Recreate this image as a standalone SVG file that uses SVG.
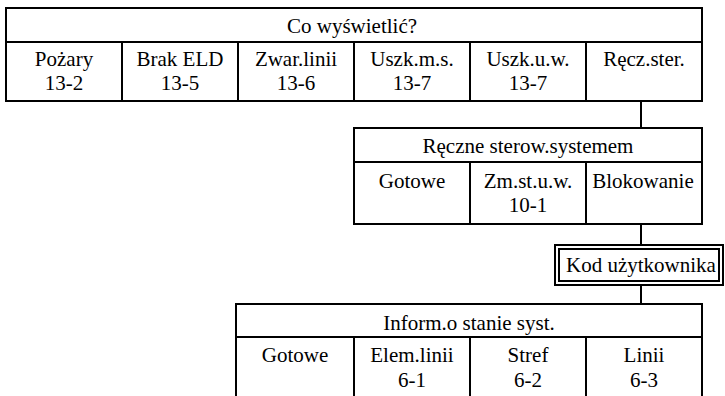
<svg xmlns="http://www.w3.org/2000/svg" width="725" height="396" viewBox="0 0 725 396">
<style>
.b{fill:#fff;stroke:#000;stroke-width:2}
.l{fill:none;stroke:#000;stroke-width:2}
.c{stroke:#000;stroke-width:2;fill:none}
.t{fill:#000;text-anchor:middle}
</style>
<rect width="725" height="396" fill="#fff"/>
<g id="connectors">
<line class="c" x1="641" y1="101" x2="641" y2="128"/>
<line class="c" x1="641" y1="224" x2="641" y2="245"/>
<line class="c" x1="641" y1="285" x2="641" y2="304"/>
</g>
<g id="menu-main">
<rect class="b" x="6" y="8" width="696" height="93"/>
<line class="l" x1="6" y1="42" x2="702" y2="42"/>
<line class="l" x1="122" y1="42" x2="122" y2="101"/>
<line class="l" x1="238" y1="42" x2="238" y2="101"/>
<line class="l" x1="354" y1="42" x2="354" y2="101"/>
<line class="l" x1="470" y1="42" x2="470" y2="101"/>
<line class="l" x1="586" y1="42" x2="586" y2="101"/>
<text class="t" font-family="Liberation Serif" font-size="21" x="352" y="33">Co wyświetlić?</text>
<text class="t" font-family="Liberation Serif" font-size="21" x="64" y="66">Pożary</text>
<text class="t" font-family="Liberation Serif" font-size="21" x="64" y="90">13-2</text>
<text class="t" font-family="Liberation Serif" font-size="21" x="180" y="66">Brak ELD</text>
<text class="t" font-family="Liberation Serif" font-size="21" x="180" y="90">13-5</text>
<text class="t" font-family="Liberation Serif" font-size="21" x="296" y="66">Zwar.linii</text>
<text class="t" font-family="Liberation Serif" font-size="21" x="296" y="90">13-6</text>
<text class="t" font-family="Liberation Serif" font-size="21" x="412" y="66">Uszk.m.s.</text>
<text class="t" font-family="Liberation Serif" font-size="21" x="412" y="90">13-7</text>
<text class="t" font-family="Liberation Serif" font-size="21" x="528" y="66">Uszk.u.w.</text>
<text class="t" font-family="Liberation Serif" font-size="21" x="528" y="90">13-7</text>
<text class="t" font-family="Liberation Serif" font-size="21" x="644" y="66">Ręcz.ster.</text>
</g>
<g id="menu-manual">
<rect class="b" x="354" y="128" width="348" height="96"/>
<line class="l" x1="354" y1="162" x2="702" y2="162"/>
<line class="l" x1="470" y1="162" x2="470" y2="224"/>
<line class="l" x1="586" y1="162" x2="586" y2="224"/>
<text class="t" font-family="Liberation Serif" font-size="21" x="528" y="153">Ręczne sterow.systemem</text>
<text class="t" font-family="Liberation Serif" font-size="21" x="412" y="188">Gotowe</text>
<text class="t" font-family="Liberation Serif" font-size="21" x="528" y="188">Zm.st.u.w.</text>
<text class="t" font-family="Liberation Serif" font-size="21" x="528" y="212">10-1</text>
<text class="t" font-family="Liberation Serif" font-size="21" x="643" y="188">Blokowanie</text>
</g>
<g id="user-code">
<rect class="b" x="555" y="245" width="168" height="40"/>
<rect class="b" x="559" y="249" width="160" height="32"/>
<text class="t" font-family="Liberation Serif" font-size="21" x="641" y="272">Kod użytkownika</text>
</g>
<g id="menu-status">
<path class="l" d="M236,400 V304 H702 V400"/>
<line class="l" x1="236" y1="337" x2="702" y2="337"/>
<line class="l" x1="354" y1="337" x2="354" y2="400"/>
<line class="l" x1="470" y1="337" x2="470" y2="400"/>
<line class="l" x1="586" y1="337" x2="586" y2="400"/>
<text class="t" font-family="Liberation Serif" font-size="21" x="469" y="330">Inform.o stanie syst.</text>
<text class="t" font-family="Liberation Serif" font-size="21" x="295" y="362">Gotowe</text>
<text class="t" font-family="Liberation Serif" font-size="21" x="412" y="362">Elem.linii</text>
<text class="t" font-family="Liberation Serif" font-size="21" x="412" y="387">6-1</text>
<text class="t" font-family="Liberation Serif" font-size="21" x="528" y="362">Stref</text>
<text class="t" font-family="Liberation Serif" font-size="21" x="528" y="387">6-2</text>
<text class="t" font-family="Liberation Serif" font-size="21" x="644" y="362">Linii</text>
<text class="t" font-family="Liberation Serif" font-size="21" x="644" y="387">6-3</text>
</g>
</svg>
